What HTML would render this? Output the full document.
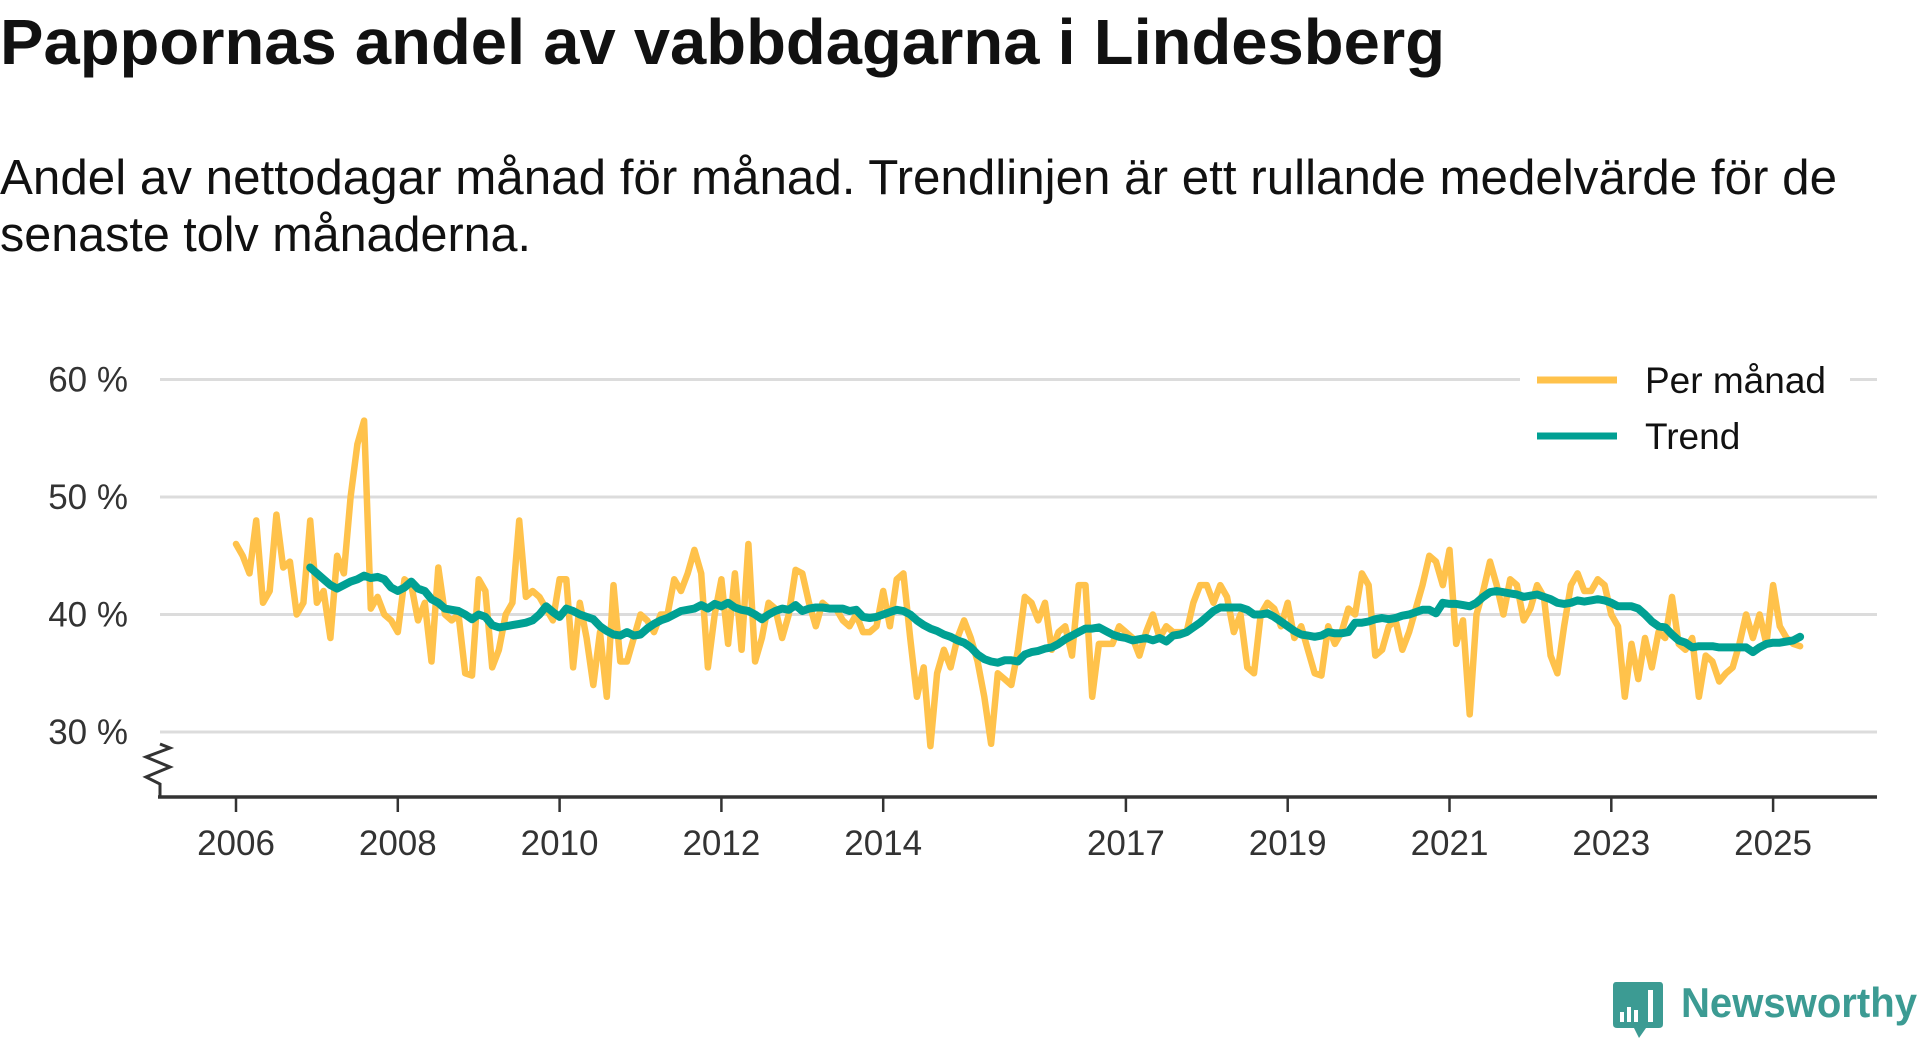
<!DOCTYPE html>
<html><head><meta charset="utf-8">
<style>
html,body{margin:0;padding:0;background:#fff;}
svg{display:block;font-family:"Liberation Sans","DejaVu Sans",sans-serif;}
</style></head>
<body>
<svg id="chart" width="1920" height="1040" viewBox="0 0 1920 1040" xmlns="http://www.w3.org/2000/svg">
<text x="0" y="64" font-size="64" font-weight="bold" fill="#111" textLength="1445" lengthAdjust="spacingAndGlyphs">Pappornas andel av vabbdagarna i Lindesberg</text>
<text x="0" y="194" font-size="49" fill="#111" textLength="1837" lengthAdjust="spacingAndGlyphs">Andel av nettodagar månad för månad. Trendlinjen är ett rullande medelvärde för de</text>
<text x="0" y="251" font-size="49" fill="#111" textLength="531" lengthAdjust="spacingAndGlyphs">senaste tolv månaderna.</text>
<g id="grid"></g>
<g id="yaxis"></g>
<g id="xaxis"></g>
<g id="series"></g>
<g id="legend">
  <rect x="1520" y="355" width="330" height="100" fill="#fff"/>
  <line x1="1537" y1="380" x2="1617" y2="380" stroke="#FFC24B" stroke-width="7"/>
  <text x="1645" y="393" font-size="37" fill="#111">Per månad</text>
  <line x1="1537" y1="436" x2="1617" y2="436" stroke="#00A093" stroke-width="7"/>
  <text x="1645" y="449" font-size="37" fill="#111">Trend</text>
</g>
<g>
  <path d="M1616 982 H1660 Q1663 982 1663 986 V1024 Q1663 1028 1659 1028 H1646 L1639 1038 L1634 1028 H1617 Q1613 1028 1613 1024 V986 Q1613 982 1616 982 Z" fill="#3C9B93"/>
  <rect x="1620" y="1012" width="4" height="10" fill="#fff"/>
  <rect x="1627" y="1007" width="4" height="15" fill="#fff"/>
  <rect x="1634" y="1010" width="4" height="12" fill="#fff"/>
  <rect x="1648" y="990" width="5" height="32" fill="#fff"/>
  <text x="1681" y="1017" font-size="42" font-weight="bold" fill="#3C9B93" textLength="236" lengthAdjust="spacingAndGlyphs">Newsworthy</text>
</g>
</svg>
<script>
// ---- data ----
const startYear = 2006;
const yTicks = [30, 40, 50, 60];
const yTickLabels = ["30 %", "40 %", "50 %", "60 %"];
const xTickYears = [2006, 2008, 2010, 2012, 2014, 2017, 2019, 2021, 2023, 2025];
const monthly2006 = [46, 45, 43.5, 48, 41, 42, 48.5, 44, 44.5, 40, 41, 48];
const monthly2007 = [41, 42, 38, 45, 43.5, 50, 54.5, 56.5, 40.5, 41.5, 40, 39.5];
const monthly2008 = [38.5, 43, 42.5, 39.5, 41, 36, 44, 40, 39.5, 40, 35, 34.8];
const monthly2009 = [43, 42, 35.5, 37, 40, 41, 48, 41.5, 42, 41.5, 40.5, 39.5];
const monthly2010 = [43, 43, 35.5, 41, 38, 34, 38.5, 33, 42.5, 36, 36, 38];
const monthly2011 = [40, 39.5, 38.5, 40, 40, 43, 42, 43.5, 45.5, 43.5, 35.5, 40];
const monthly2012 = [43, 37.5, 43.5, 37, 46, 36, 38, 41, 40.5, 38, 40, 43.8];
const monthly2013 = [43.5, 41, 39, 41, 40.5, 40.5, 39.5, 39, 40, 38.5, 38.5, 39];
const monthly2014 = [42, 39, 43, 43.5, 38, 33, 35.5, 28.8, 35, 37, 35.5, 38];
const monthly2015 = [39.5, 38, 36, 33, 29, 35, 34.5, 34, 37, 41.5, 41, 39.5];
const monthly2016 = [41, 37, 38.5, 39, 36.5, 42.5, 42.5, 33, 37.5, 37.5, 37.5, 39];
const monthly2017 = [38.5, 38, 36.5, 38.5, 40, 38, 39, 38.5, 38.5, 38.5, 41, 42.5];
const monthly2018 = [42.5, 41, 42.5, 41.5, 38.5, 40, 35.5, 35, 40, 41, 40.5, 39];
const monthly2019 = [41, 38, 39, 37, 35, 34.8, 39, 37.5, 38.5, 40.5, 40, 43.5];
const monthly2020 = [42.5, 36.5, 37, 39, 39.5, 37, 38.5, 40.5, 42.5, 45, 44.5, 42.5];
const monthly2021 = [45.5, 37.5, 39.5, 31.5, 40, 42, 44.5, 42.5, 40, 43, 42.5, 39.5];
const monthly2022 = [40.5, 42.5, 41.5, 36.5, 35, 39, 42.5, 43.5, 42, 42, 43, 42.5];
const monthly2023 = [40, 39, 33, 37.5, 34.5, 38, 35.5, 38.5, 38, 41.5, 37.5, 37];
const monthly2024 = [38, 33, 36.5, 36, 34.3, 35, 35.5, 37.5, 40, 38, 40, 37.5];
const monthly2025 = [42.5, 39, 38, 37.5, 37.3];
const trendStartMonth = 11; // Dec 2006
const trend2006 = [44];
const trend2007 = [43.5, 43, 42.5, 42.2, 42.5, 42.8, 43, 43.3, 43.1, 43.2, 43, 42.3];
const trend2008 = [42, 42.3, 42.8, 42.2, 42, 41.3, 41, 40.5, 40.4, 40.3, 40, 39.6];
const trend2009 = [40, 39.8, 39.1, 38.9, 39, 39.1, 39.2, 39.3, 39.5, 40, 40.7, 40.2];
const trend2010 = [39.8, 40.5, 40.3, 40, 39.8, 39.6, 39, 38.6, 38.3, 38.2, 38.5, 38.2];
const trend2011 = [38.3, 38.8, 39.2, 39.5, 39.7, 40, 40.3, 40.4, 40.5, 40.8, 40.5, 40.9];
const trend2012 = [40.7, 41, 40.6, 40.4, 40.3, 40, 39.6, 40, 40.3, 40.5, 40.4, 40.8];
const trend2013 = [40.3, 40.5, 40.6, 40.6, 40.5, 40.5, 40.5, 40.3, 40.4, 39.8, 39.7, 39.8];
const trend2014 = [40, 40.2, 40.4, 40.3, 40, 39.5, 39.1, 38.8, 38.6, 38.3, 38.1, 37.8];
const trend2015 = [37.6, 37.2, 36.6, 36.2, 36, 35.9, 36.1, 36.1, 36, 36.6, 36.8, 36.9];
const trend2016 = [37.1, 37.2, 37.5, 37.9, 38.2, 38.5, 38.8, 38.8, 38.9, 38.6, 38.3, 38.1];
const trend2017 = [38, 37.8, 37.9, 38, 37.8, 38, 37.7, 38.2, 38.3, 38.5, 38.9, 39.3];
const trend2018 = [39.8, 40.3, 40.6, 40.6, 40.6, 40.6, 40.4, 40, 40, 40.1, 39.8, 39.4];
const trend2019 = [39, 38.6, 38.3, 38.2, 38.1, 38.2, 38.5, 38.4, 38.4, 38.5, 39.3, 39.3];
const trend2020 = [39.4, 39.6, 39.7, 39.6, 39.7, 39.9, 40, 40.2, 40.4, 40.4, 40.1, 41];
const trend2021 = [40.9, 40.9, 40.8, 40.7, 41, 41.5, 41.9, 42, 41.9, 41.8, 41.7, 41.5];
const trend2022 = [41.6, 41.7, 41.5, 41.3, 41, 40.9, 41, 41.2, 41.1, 41.2, 41.3, 41.2];
const trend2023 = [41, 40.7, 40.7, 40.7, 40.5, 40, 39.4, 39, 38.9, 38.3, 37.8, 37.6];
const trend2024 = [37.2, 37.3, 37.3, 37.3, 37.2, 37.2, 37.2, 37.2, 37.2, 36.8, 37.2, 37.5];
const trend2025 = [37.6, 37.6, 37.7, 37.8, 38.1];

const monthly = [].concat(monthly2006, monthly2007, monthly2008, monthly2009, monthly2010, monthly2011, monthly2012, monthly2013, monthly2014, monthly2015, monthly2016, monthly2017, monthly2018, monthly2019, monthly2020, monthly2021, monthly2022, monthly2023, monthly2024, monthly2025);
const trend = [].concat(trend2006, trend2007, trend2008, trend2009, trend2010, trend2011, trend2012, trend2013, trend2014, trend2015, trend2016, trend2017, trend2018, trend2019, trend2020, trend2021, trend2022, trend2023, trend2024, trend2025);

// ---- scales ----
const X0 = 236, PX_PER_YEAR = 80.9;
const Y30 = 732, PX_PER_PCT = 11.75;
function xScale(t) { return X0 + (t - startYear) * PX_PER_YEAR; }
function yScale(v) { return Y30 - (v - 30) * PX_PER_PCT; }
function xMonth(i) { return xScale(startYear + i / 12); }

const NS = "http://www.w3.org/2000/svg";
function mk(tag, attrs, parent) {
  const e = document.createElementNS(NS, tag);
  for (const k in attrs) e.setAttribute(k, attrs[k]);
  parent.appendChild(e);
  return e;
}
const grid = document.getElementById('grid');
const yaxis = document.getElementById('yaxis');
const xaxis = document.getElementById('xaxis');
const series = document.getElementById('series');

yTicks.forEach((v, i) => {
  const l = mk('line', {x1: 160, x2: 1877, y1: yScale(v), y2: yScale(v), stroke: '#dcdcdc', 'stroke-width': 3}, grid);
  
  
  const t = mk('text', {x: 128, y: yScale(v) + 12, 'text-anchor': 'end', 'font-size': 35, fill: '#333'}, yaxis);
  t.textContent = yTickLabels[i];
  
  
});

const zz = mk('path', {d: 'M160 797 V784 L146 777 L170 767 L146 757 L170 748 L160 744', fill: 'none', stroke: '#333', 'stroke-width': 3, 'stroke-linejoin': 'miter'}, xaxis);



const ax = mk('line', {x1: 158, x2: 1877, y1: 797, y2: 797, stroke: '#333', 'stroke-width': 3.5}, xaxis);



xTickYears.forEach(yr => {
  const x = xScale(yr);
  const tk = mk('line', {x1: x, x2: x, y1: 797, y2: 812, stroke: '#333', 'stroke-width': 2.5}, xaxis);
  
  
  const t = mk('text', {x: x, y: 855, 'text-anchor': 'middle', 'font-size': 35, fill: '#333'}, xaxis);
  t.textContent = String(yr);
  
  
});

const mPts = monthly.map((v, i) => xMonth(i).toFixed(1) + ',' + yScale(v).toFixed(1)).join(' ');
const mLine = mk('polyline', {points: mPts, fill: 'none', stroke: '#FFC24B', 'stroke-width': 6.5, 'stroke-linejoin': 'round', 'stroke-linecap': 'round'}, series);



const tPts = trend.map((v, i) => xMonth(i + trendStartMonth).toFixed(1) + ',' + yScale(v).toFixed(1)).join(' ');
const tLine = mk('polyline', {points: tPts, fill: 'none', stroke: '#00A093', 'stroke-width': 8, 'stroke-linejoin': 'round', 'stroke-linecap': 'round'}, series);



const svg = document.getElementById('chart');
svg.appendChild(document.getElementById('legend'));
</script>
</body></html>
